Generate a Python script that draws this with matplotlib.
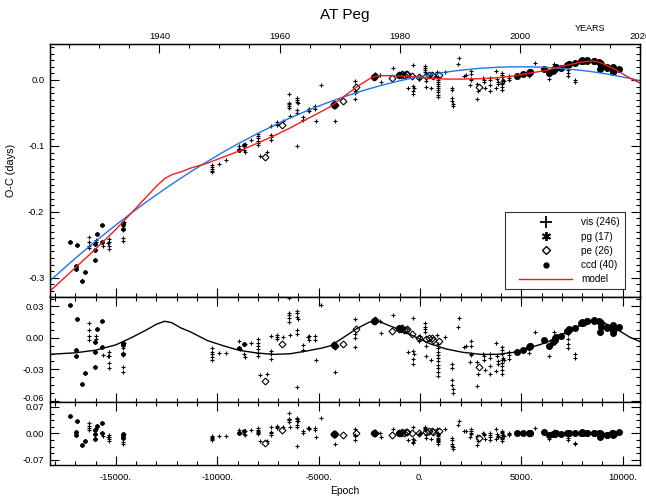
import matplotlib
matplotlib.use("Agg")
import matplotlib.pyplot as plt
from matplotlib.lines import Line2D
from matplotlib.legend_handler import HandlerLine2D
from matplotlib.ticker import MultipleLocator, FuncFormatter

plt.rcParams['font.family'] = ['Liberation Sans', 'DejaVu Sans']

# ------------------- MODEL CURVES -------------------
# quadratic ephemeris (blue), light-time term (black) and full model (red)
curve_epoch = [-18300, -17000, -16000, -15000, -14250, -13500, -13000, -12600, -12250,
               -11800, -11300, -10500, -9700, -8900, -8000, -7200, -6400, -5600,
               -4800, -4400, -3800, -3100, -2500, -2150, -1800, -1150, -350,
               500, 1300, 2100, 3000, 3800, 4600, 5400, 6250, 7050,
               7900, 8400, 8720, 9050, 9550, 10350, 10900]
quad_curve = [-0.3057, -0.2703, -0.2444, -0.2198, -0.2021, -0.1850, -0.1741, -0.1655, -0.1582,
              -0.1490, -0.1390, -0.1238, -0.1092, -0.0955, -0.0810, -0.0689, -0.0575, -0.0470,
              -0.0372, -0.0326, -0.0261, -0.0190, -0.0134, -0.0103, -0.0074, -0.0024, 0.0031,
              0.0081, 0.0120, 0.0151, 0.0177, 0.0192, 0.0199, 0.0199, 0.0190, 0.0173,
              0.0147, 0.0128, 0.0114, 0.0098, 0.0072, 0.0023, -0.0014]
ltte_curve = [-0.0158, -0.0143, -0.0118, -0.0067, 0.0000, 0.0075, 0.0130, 0.0158, 0.0145,
              0.0095, 0.0055, -0.0025, -0.0076, -0.0120, -0.0146, -0.0158, -0.0152, -0.0126,
              -0.0096, -0.0075, 0.0000, 0.0090, 0.0150, 0.0164, 0.0139, 0.0088, 0.0020,
              -0.0057, -0.0107, -0.0138, -0.0158, -0.0158, -0.0139, -0.0096, -0.0044, 0.0037,
              0.0120, 0.0158, 0.0164, 0.0145, 0.0100, 0.0006, -0.0040]
model_curve = [-0.3215, -0.2846, -0.2562, -0.2265, -0.2021, -0.1775, -0.1611, -0.1497, -0.1437,
               -0.1395, -0.1335, -0.1263, -0.1168, -0.1075, -0.0956, -0.0847, -0.0727, -0.0596,
               -0.0468, -0.0401, -0.0261, -0.0100, 0.0016, 0.0061, 0.0065, 0.0064, 0.0051,
               0.0024, 0.0013, 0.0013, 0.0019, 0.0034, 0.0060, 0.0103, 0.0146, 0.0210,
               0.0267, 0.0286, 0.0278, 0.0243, 0.0172, 0.0029, -0.0054]

# ------------------- MINIMA: VISUAL -------------------
vis_epoch = [-16310, -16310, -16310, -16310, -16000, -16000, -15620, -15330, -15330,
             -15400, -15330, -15330, -14650, -14650, -14650, -14650, -14650, -14620,
             -10260, -10260, -10260, -10260, -10240, -9930, -9590, -8950, -8880,
             -8640, -8670, -8650, -8350, -7990, -7990, -7990, -7990, -7990,
             -7990, -7900, -7570, -7340, -7340, -7340, -7340, -7070, -7070,
             -7070, -6760, -6410, -6480, -6480, -6480, -6480, -6450, -6090,
             -6070, -6050, -6030, -6090, -6090, -6090, -5760, -5760, -5520,
             -5460, -5490, -5160, -5160, -5130, -4900, -4180,
             -3190, -3190, -3190, -3190, -1970, -1940, -1320, -330, -580,
             -330, -300, -330, -330, -20, -70, 260, 260, 260,
             260, 300, 300, 530, 860, 890, 890, 890, 890,
             890, 890, 890, 890, 890, 890, 1250, 1600, 1600,
             1600, 1600, 1640, 1640, 1880, 1940, 2190, 2250, 2500,
             2500, 2500, 2500, 2470, 2800, 2860, 2830, 3140, 3170,
             3200, 3130, 3450, 3450, 3450, 3450, 3750, 3800, 3830,
             3830, 3750, 4050, 4050, 4050, 4050, 4050, 4050, 4050,
             4050, 4110, 4140, 4410, 4410, 4410, 5400, 5690, 6350,
             6610, 7300, 7320, 7320, 7320, 7620, 7630]
vis_oc = [-0.2385, -0.2454, -0.2511, -0.2549, -0.2431, -0.2457, -0.2510, -0.2410, -0.2454,
          -0.2472, -0.2520, -0.2567, -0.2216, -0.2257, -0.2279, -0.2393, -0.2437, -0.2154,
          -0.1294, -0.1326, -0.1351, -0.1376, -0.1398, -0.1279, -0.1217, -0.0995, -0.1062,
          -0.0969, -0.1069, -0.1097, -0.0917, -0.0821, -0.0855, -0.0887, -0.0918, -0.0950,
          -0.0982, -0.1151, -0.1092, -0.0693, -0.0835, -0.0867, -0.0914, -0.0645, -0.0664,
          -0.0683, -0.0619, -0.0552, -0.0207, -0.0352, -0.0371, -0.0396, -0.0430, -0.0275,
          -0.0300, -0.0332, -0.0350, -0.0458, -0.0496, -0.1002, -0.0560, -0.0610, -0.0455,
          -0.0440, -0.0475, -0.0397, -0.0435, -0.0621, -0.0074, -0.0624,
          -0.0016, -0.0161, -0.0199, -0.0287, 0.0070, -0.0036, 0.0185, 0.0222, -0.0123,
          -0.0094, -0.0116, -0.0170, -0.0214, 0.0065, 0.0017, 0.0213, 0.0175, 0.0150,
          0.0125, -0.0012, -0.0101, -0.0126, 0.0124, 0.0038, 0.0000, -0.0032, -0.0063,
          -0.0095, -0.0120, -0.0158, -0.0189, -0.0221, -0.0266, 0.0124, -0.0120, -0.0157,
          -0.0271, -0.0322, -0.0359, -0.0391, 0.0244, 0.0336, 0.0066, 0.0074, 0.0132,
          0.0088, 0.0012, 0.0000, -0.0071, -0.0056, -0.0174, -0.0288, 0.0004, -0.0028,
          -0.0122, 0.0028, 0.0029, -0.0003, -0.0078, -0.0161, 0.0141, 0.0021, -0.0029,
          -0.0054, -0.0124, 0.0108, 0.0076, 0.0044, -0.0013, -0.0044, -0.0069, -0.0107,
          -0.0152, 0.0006, -0.0019, 0.0065, 0.0034, -0.0004, 0.0054, 0.0254, 0.0011,
          0.0240, 0.0204, 0.0153, 0.0103, 0.0065, -0.0001, -0.0033]
vis_oc_quad = [0.0139, 0.0070, 0.0013, -0.0025, 0.0013, -0.0013, -0.0161, -0.0133, -0.0177,
               -0.0177, -0.0243, -0.0290, -0.0101, -0.0142, -0.0164, -0.0278, -0.0322, -0.0047,
               -0.0101, -0.0133, -0.0158, -0.0183, -0.0209, -0.0145, -0.0145, -0.0032, -0.0110,
               -0.0057, -0.0152, -0.0183, -0.0051, -0.0013, -0.0047, -0.0079, -0.0110, -0.0142,
               -0.0174, -0.0357, -0.0348, 0.0016, -0.0126, -0.0158, -0.0205, 0.0025, 0.0006,
               -0.0013, 0.0006, 0.0025, 0.0379, 0.0234, 0.0215, 0.0190, 0.0152, 0.0259,
               0.0234, 0.0196, 0.0177, 0.0076, 0.0038, -0.0468, -0.0070, -0.0120, 0.0006,
               0.0013, -0.0019, 0.0019, -0.0019, -0.0209, 0.0310, -0.0322,
               0.0183, 0.0038, 0.0000, -0.0088, 0.0158, 0.0050, 0.0221, 0.0190, -0.0139,
               -0.0126, -0.0150, -0.0202, -0.0246, 0.0013, -0.0032, 0.0145, 0.0107, 0.0082,
               0.0057, -0.0082, -0.0171, -0.0209, 0.0025, -0.0063, -0.0101, -0.0133, -0.0164,
               -0.0196, -0.0221, -0.0259, -0.0290, -0.0322, -0.0367, 0.0006, -0.0253, -0.0290,
               -0.0404, -0.0455, -0.0493, -0.0525, 0.0101, 0.0190, -0.0088, -0.0082, -0.0032,
               -0.0076, -0.0152, -0.0164, -0.0234, -0.0228, -0.0348, -0.0461, -0.0177, -0.0209,
               -0.0303, -0.0152, -0.0158, -0.0190, -0.0265, -0.0348, -0.0051, -0.0171, -0.0221,
               -0.0246, -0.0316, -0.0088, -0.0120, -0.0152, -0.0209, -0.0240, -0.0265, -0.0303,
               -0.0348, -0.0190, -0.0215, -0.0133, -0.0164, -0.0202, -0.0145, 0.0057, -0.0177,
               0.0057, 0.0038, -0.0013, -0.0063, -0.0101, -0.0158, -0.0190]
vis_resid = [0.0264, 0.0195, 0.0138, 0.0100, 0.0131, 0.0105, -0.0062, -0.0049, -0.0093,
             -0.0089, -0.0159, -0.0206, -0.0065, -0.0106, -0.0128, -0.0242, -0.0286, -0.0014,
             -0.0060, -0.0092, -0.0117, -0.0142, -0.0167, -0.0084, -0.0063, 0.0086, 0.0011,
             0.0071, -0.0025, -0.0055, 0.0085, 0.0133, 0.0099, 0.0067, 0.0036, 0.0004,
             -0.0028, -0.0209, -0.0196, 0.0172, 0.0030, -0.0002, -0.0049, 0.0182, 0.0163,
             0.0144, 0.0161, 0.0177, 0.0532, 0.0387, 0.0368, 0.0343, 0.0304, 0.0401,
             0.0376, 0.0337, 0.0318, 0.0218, 0.0180, -0.0326, 0.0061, 0.0011, 0.0129,
             0.0133, 0.0103, 0.0129, 0.0091, -0.0100, 0.0410, -0.0274,
             0.0105, -0.0040, -0.0078, -0.0166, 0.0006, -0.0099, 0.0120, 0.0172, -0.0178,
             -0.0144, -0.0166, -0.0220, -0.0264, 0.0017, -0.0031, 0.0180, 0.0142, 0.0117,
             0.0092, -0.0045, -0.0134, -0.0150, 0.0105, 0.0019, -0.0019, -0.0051, -0.0082,
             -0.0114, -0.0139, -0.0177, -0.0208, -0.0240, -0.0285, 0.0110, -0.0134, -0.0171,
             -0.0285, -0.0336, -0.0373, -0.0405, 0.0230, 0.0322, 0.0052, 0.0059, 0.0115,
             0.0071, -0.0005, -0.0017, -0.0088, -0.0075, -0.0193, -0.0307, -0.0019, -0.0051,
             -0.0145, 0.0006, 0.0000, -0.0032, -0.0107, -0.0190, 0.0107, -0.0013, -0.0063,
             -0.0088, -0.0158, 0.0065, 0.0033, 0.0001, -0.0056, -0.0087, -0.0112, -0.0150,
             -0.0195, -0.0038, -0.0063, 0.0011, -0.0020, -0.0058, -0.0049, 0.0135, -0.0143,
             0.0065, -0.0025, -0.0078, -0.0128, -0.0166, -0.0252, -0.0285]

# ------------------- MINIMA: PHOTOGRAPHIC -------------------
pg_epoch = [-17270, -16900, -15920, -15670, -16970, -16970, -16020, -16020, -15670,
            -16020, -16510, -16660, -14650, -14650, -14650, -8950, -8670]
pg_oc = [-0.2458, -0.2495, -0.2336, -0.2198, -0.2815, -0.2872, -0.2489, -0.2581, -0.2450,
         -0.2726, -0.2910, -0.3055, -0.2165, -0.2265, -0.2185, -0.1064, -0.0980]
pg_oc_quad = [0.0316, 0.0183, 0.0088, 0.0164, -0.0120, -0.0177, -0.0041, -0.0133, -0.0088,
              -0.0278, -0.0335, -0.0442, -0.0050, -0.0150, -0.0070, -0.0101, -0.0063]
pg_resid = [0.0462, 0.0324, 0.0202, 0.0265, 0.0022, -0.0035, 0.0077, -0.0015, 0.0013,
            -0.0160, -0.0205, -0.0308, -0.0014, -0.0114, -0.0034, 0.0017, 0.0064]

# ------------------- MINIMA: PHOTOELECTRIC -------------------
pe_epoch = [-7660, -6790, -4240, -4210, -4225, -4255, -3820, -3160, -2240,
            -2280, -2200, -1380, -1020, -950, -880, -800, -700, -640,
            -400, -70, 300, 430, 590, 650, 920, 2930]
pe_oc = [-0.1168, -0.0687, -0.0378, -0.0381, -0.0372, -0.0378, -0.0319, -0.0108, 0.0053,
         0.0044, 0.0057, 0.0022, 0.0074, 0.0073, 0.0086, 0.0071, 0.0083, 0.0094,
         0.0060, 0.0043, 0.0057, 0.0077, 0.0080, 0.0064, 0.0071, -0.0102]
pe_oc_quad = [-0.0410, -0.0057, -0.0070, -0.0076, -0.0065, -0.0068, -0.0057, 0.0088, 0.0164,
              0.0158, 0.0166, 0.0063, 0.0088, 0.0082, 0.0090, 0.0070, 0.0075, 0.0082,
              0.0032, -0.0006, -0.0013, 0.0000, -0.0006, -0.0025, -0.0032, -0.0278]
pe_resid = [-0.0259, 0.0098, -0.0015, -0.0025, -0.0012, -0.0013, -0.0055, 0.0005, 0.0003,
            -0.0001, 0.0003, -0.0043, 0.0011, 0.0011, 0.0025, 0.0012, 0.0026, 0.0038,
            0.0009, -0.0005, 0.0024, 0.0049, 0.0057, 0.0042, 0.0052, -0.0122]

# ------------------- MINIMA: CCD -------------------
ccd_epoch = [-1020, -4230, -2250, 4770, 5070, 5400, 5440, 5420, 6120, 6350,
             6560, 6640, 6670, 6700, 6970, 7260, 7330, 7360, 7630, 7960,
             8010, 8020, 8230, 8250, 8590, 8600, 8850, 8880, 8910, 8910,
             8880, 9200, 9240, 9480, 9510, 9510, 9540, 9560, 9510, 9830]
ccd_oc = [0.0081, -0.0380, 0.0048, 0.0067, 0.0086, 0.0111, 0.0123, 0.0117, 0.0173, 0.0112,
          0.0140, 0.0164, 0.0183, 0.0191, 0.0188, 0.0229, 0.0248, 0.0241, 0.0252, 0.0283,
          0.0296, 0.0289, 0.0292, 0.0296, 0.0291, 0.0285, 0.0270, 0.0258, 0.0245, 0.0213,
          0.0163, 0.0190, 0.0185, 0.0181, 0.0193, 0.0168, 0.0143, 0.0158, 0.0123, 0.0163]
ccd_oc_quad = [0.0095, -0.0072, 0.0160, -0.0133, -0.0114, -0.0088, -0.0076, -0.0082, -0.0019, -0.0076,
               -0.0044, -0.0019, 0.0000, 0.0008, 0.0013, 0.0063, 0.0082, 0.0075, 0.0095, 0.0139,
               0.0152, 0.0145, 0.0158, 0.0162, 0.0171, 0.0165, 0.0164, 0.0152, 0.0139, 0.0107,
               0.0057, 0.0100, 0.0095, 0.0108, 0.0120, 0.0095, 0.0070, 0.0085, 0.0050, 0.0107]
ccd_resid = [0.0018, -0.0017, -0.0001, -0.0003, 0.0001, 0.0008, 0.0018, 0.0013, 0.0033, -0.0042,
             -0.0031, -0.0014, 0.0002, 0.0007, -0.0016, 0.0004, 0.0016, 0.0006, 0.0000, 0.0014,
             0.0024, 0.0016, 0.0013, 0.0015, 0.0010, 0.0004, 0.0006, -0.0003, -0.0013, -0.0045,
             -0.0098, -0.0032, -0.0033, 0.0002, 0.0016, -0.0009, -0.0031, -0.0014, -0.0054, 0.0037]

legend_labels = ['vis (246)', 'pg (17)', 'pe (26)', 'ccd (40)', 'model']

# ------------------- STYLE -------------------
EPOCH_RANGE = (-18250, 10850)
YEAR_RANGE = (1921.8, 2020.0)
RED = '#f21c1c'
BLUE = '#1f74f0'
TICK_FS = 6.8


def epoch_label(v, pos):
    return f"{v:.0f}."


def style_axis(ax, major, minor, fmt, skip_below=None):
    ax.set_xlim(*EPOCH_RANGE)
    ax.xaxis.set_major_locator(MultipleLocator(5000))
    ax.xaxis.set_minor_locator(MultipleLocator(1000))
    ax.yaxis.set_major_locator(MultipleLocator(major))
    ax.yaxis.set_minor_locator(MultipleLocator(minor))

    def ylab(v, p):
        if skip_below is not None and v < skip_below:
            return ''
        return fmt % (0.0 if abs(v) < 1e-9 else v)

    ax.yaxis.set_major_formatter(FuncFormatter(ylab))
    ax.tick_params(which='both', direction='in', left=True, right=True,
                   top=True, bottom=True, width=0.8, labelsize=TICK_FS, pad=4)
    ax.tick_params(which='major', length=6.5)
    ax.tick_params(which='minor', length=3)
    ax.tick_params(axis='x', labelbottom=False)
    for sp in ax.spines.values():
        sp.set_linewidth(1.0)


def plot_points(ax, which):
    sets = {
        'oc': (vis_oc, pg_oc, pe_oc, ccd_oc),
        'quad': (vis_oc_quad, pg_oc_quad, pe_oc_quad, ccd_oc_quad),
        'resid': (vis_resid, pg_resid, pe_resid, ccd_resid),
    }
    v, g, e, c = sets[which]
    ax.plot(vis_epoch, v, ls='none', marker='+', ms=3.2, mew=0.8, color='k')
    ax.plot(pg_epoch, g, ls='none', marker=(6, 2, 0), ms=3.0, mew=1.2, color='k')
    ax.plot(pe_epoch, e, ls='none', marker='D', ms=3.5, mew=0.8, mfc='none', color='k')
    ax.plot(ccd_epoch, c, ls='none', marker='o', ms=4.0, color='k')


fig = plt.figure(figsize=(6.46, 5.01), dpi=100)
left, width = 0.0774, 0.9133
ax_top = fig.add_axes([left, 0.4072, width, 0.5050])
ax_mid = fig.add_axes([left, 0.1976, width, 0.2096])
ax_res = fig.add_axes([left, 0.0719, width, 0.1257])

# ------------------- TOP: O-C WITH MODELS -------------------
plot_points(ax_top, 'oc')
ax_top.plot(curve_epoch, quad_curve, color=BLUE, lw=1.0)
ax_top.plot(curve_epoch, model_curve, color=RED, lw=1.0)
style_axis(ax_top, 0.1, 0.01, '%.1f')
ax_top.tick_params(axis='x', top=False)
ax_top.set_ylim(-0.329, 0.0545)
ax_top.set_ylabel('O-C (days)', fontsize=7.8)
ax_top.yaxis.set_label_coords(-0.058, 0.5)

ax_year = ax_top.twiny()
ax_year.set_xlim(*YEAR_RANGE)
ax_year.xaxis.set_major_locator(MultipleLocator(20))
ax_year.xaxis.set_minor_locator(MultipleLocator(5))
ax_year.tick_params(which='both', direction='in', width=0.8, labelsize=TICK_FS, pad=2)
ax_year.tick_params(which='major', length=6.5)
ax_year.tick_params(which='minor', length=3)

handles = [
    Line2D([], [], ls='none', marker='+', ms=8, mew=1.3, color='k'),
    Line2D([], [], ls='none', marker=(6, 2, 0), ms=6.5, mew=1.3, color='k'),
    Line2D([], [], ls='none', marker='D', ms=4.5, mew=1.0, mfc='none', color='k'),
    Line2D([], [], ls='none', marker='o', ms=3.5, color='k'),
    Line2D([], [], color=RED, lw=1.0),
]
leg = ax_top.legend(handles, legend_labels, loc='lower right', bbox_to_anchor=(0.9746, 0.030),
                    fontsize=7.2, frameon=True, fancybox=False, edgecolor='k',
                    handlelength=6.2, handletextpad=0.9, labelspacing=0.43,
                    borderpad=0.5, borderaxespad=0.0,
                    handler_map={Line2D: HandlerLine2D(xpad=0.9)})
leg.get_frame().set_linewidth(0.8)

# ------------------- MIDDLE: AFTER QUADRATIC TERM -------------------
plot_points(ax_mid, 'quad')
ax_mid.plot(curve_epoch, ltte_curve, color='k', lw=1.0)
style_axis(ax_mid, 0.03, 0.0075, '%.2f', skip_below=-0.05)
ax_mid.set_ylim(-0.0613, 0.039)
# lowest label sits a little above its tick so it clears the panel below
ax_mid.annotate('-0.06', xy=(0, -0.06), xycoords=('axes fraction', 'data'),
                xytext=(-4, 1.8), textcoords='offset points',
                ha='right', va='center', fontsize=TICK_FS)

# ------------------- BOTTOM: RESIDUALS -------------------
plot_points(ax_res, 'resid')
style_axis(ax_res, 0.07, 0.0175, '%.2f')
ax_res.set_ylim(-0.084, 0.083)
ax_res.tick_params(axis='x', labelbottom=True, pad=6)
ax_res.xaxis.set_major_formatter(FuncFormatter(epoch_label))
ax_res.set_xlabel('Epoch', fontsize=7.5, labelpad=3)

fig.text(0.534, 0.970, 'AT Peg', ha='center', va='center', fontsize=11)
fig.text(0.913, 0.944, 'YEARS', ha='center', va='center', fontsize=6.5)

fig.savefig('out.png', dpi=100)
